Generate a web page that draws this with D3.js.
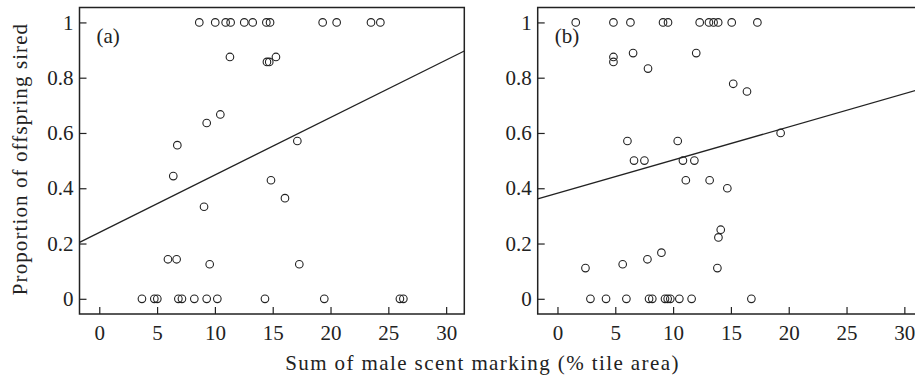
<!DOCTYPE html>
<html>
<head>
<meta charset="utf-8">
<script src="https://cdn.jsdelivr.net/npm/d3@7"></script>
<style>
  body { margin: 0; background: #fff; }
  svg text { font-family: 'Liberation Serif', serif; fill: #222; }
</style>
</head>
<body>
<figure id="scatter" style="margin:0"></figure>
<script>
// Panel (a): sum of scent marking vs proportion of offspring sired
const markA = [8.65, 10.03, 10.93, 11.36, 12.54, 13.27, 14.45, 14.77, 19.32, 20.53, 23.5, 24.31,
  11.3, 15.28, 14.5, 14.7, 10.47, 9.29, 17.13, 6.75, 6.4, 14.85, 16.06, 9.06,
  5.94, 6.69, 17.3, 9.55,
  3.69, 4.76, 5.02, 6.84, 7.15, 8.22, 9.29, 10.21, 14.33, 19.46, 26.0, 26.3];
const siredA = [1, 1, 1, 1, 1, 1, 1, 1, 1, 1, 1, 1,
  0.875, 0.875, 0.857, 0.857, 0.667, 0.636, 0.571, 0.556, 0.444, 0.429, 0.364, 0.333,
  0.143, 0.143, 0.125, 0.125,
  0, 0, 0, 0, 0, 0, 0, 0, 0, 0, 0, 0];

// Panel (b)
const markB = [1.58, 4.84, 6.31, 9.13, 9.56, 12.3, 13.1, 13.5, 13.9, 15.07, 17.29,
  6.54, 12.0, 4.84, 4.84, 7.83, 15.2, 16.39, 19.3, 6.05, 10.4,
  6.62, 7.52, 10.85, 11.84, 11.1, 13.16, 14.69, 14.12, 13.92, 8.99, 7.78, 5.64, 2.42, 13.83,
  2.85, 4.2, 5.96, 7.92, 8.2, 9.3, 9.53, 9.76, 10.54, 11.6, 16.77];
const siredB = [1, 1, 1, 1, 1, 1, 1, 1, 1, 1, 1,
  0.889, 0.889, 0.875, 0.857, 0.833, 0.778, 0.75, 0.6, 0.571, 0.571,
  0.5, 0.5, 0.5, 0.5, 0.429, 0.429, 0.4, 0.25, 0.222, 0.167, 0.143, 0.125, 0.111, 0.111,
  0, 0, 0, 0, 0, 0, 0, 0, 0, 0, 0];

// fitted lines: [intercept, slope]
const fitA = [0.240, 0.0208];
const fitB = [0.382, 0.0120];

const xTicks = [0, 5, 10, 15, 20, 25, 30];
const yTicks = [0, 0.2, 0.4, 0.6, 0.8, 1];
const panelLabels = ['(a)', '(b)'];

const width = 915;
const height = 378;
const plotW = 384.8;
const plotH = 306.5;
const marginTop = 7.5;
const lefts = [79.5, 537.7];
const serif = 'Liberation Serif';

const svg = d3.select('figure#scatter')
  .append('svg')
  .attr('width', width)
  .attr('height', height);

const panels = [
  {xs: markA, ys: siredA, fit: fitA},
  {xs: markB, ys: siredB, fit: fitB}
];

panels.forEach((p, i) => {
  const g = svg.append('g')
    .attr('transform', 'translate(' + lefts[i] + ',' + marginTop + ')');

  const x = d3.scaleLinear()
    .domain([-1.71, 31.57])
    .range([0, plotW]);
  const y = d3.scaleLinear()
    .domain([-0.055, 1.054])
    .range([plotH, 0]);

  // Add X axis
  const xAxis = g.append('g')
    .attr('transform', 'translate(0,' + plotH + ')')
    .call(d3.axisBottom(x).tickValues(xTicks).tickSizeInner(-7).tickSizeOuter(0).tickPadding(11));
  xAxis.attr('font-family', serif).attr('font-size', 21);
  xAxis.select('.domain').remove();
  xAxis.selectAll('line').attr('stroke', '#222').attr('stroke-width', 1.2);
  xAxis.selectAll('text').attr('fill', '#222');

  // Add Y axis
  const yAxis = g.append('g')
    .call(d3.axisLeft(y).tickValues(yTicks).tickSizeInner(-7).tickSizeOuter(0).tickPadding(6)
      .tickFormat(d3.format('~g')));
  yAxis.attr('font-family', serif).attr('font-size', 21);
  yAxis.select('.domain').remove();
  yAxis.selectAll('line').attr('stroke', '#222').attr('stroke-width', 1.2);
  yAxis.selectAll('text').attr('fill', '#222');

  // frame
  g.append('rect')
    .attr('width', plotW)
    .attr('height', plotH)
    .attr('fill', 'none')
    .attr('stroke', '#222')
    .attr('stroke-width', 1.5);

  // regression line
  const x0 = x.domain()[0], x1 = x.domain()[1];
  g.append('line')
    .attr('x1', x(x0))
    .attr('y1', y(p.fit[0] + p.fit[1] * x0))
    .attr('x2', x(x1))
    .attr('y2', y(p.fit[0] + p.fit[1] * x1))
    .attr('stroke', '#222')
    .attr('stroke-width', 1.3);

  // Add dots
  g.append('g').selectAll('circle')
    .data(p.xs)
    .enter()
    .append('circle')
    .attr('cx', d => x(d))
    .attr('cy', (d, j) => y(p.ys[j]))
    .attr('r', 3.8)
    .attr('fill', 'none')
    .attr('stroke', '#222')
    .attr('stroke-width', 1.1);

  // panel label
  g.append('text')
    .attr('x', 17)
    .attr('y', 35)
    .attr('font-family', serif)
    .attr('font-size', 21)
    .text(panelLabels[i]);
});

// axis titles
svg.append('text')
  .attr('x', 482.5)
  .attr('y', 370)
  .attr('text-anchor', 'middle')
  .attr('font-family', serif)
  .attr('font-size', 21)
  .attr('letter-spacing', 1.4)
  .text('Sum of male scent marking (% tile area)');

svg.append('text')
  .attr('transform', 'translate(27,159) rotate(-90)')
  .attr('text-anchor', 'middle')
  .attr('font-family', serif)
  .attr('font-size', 21)
  .attr('letter-spacing', 1.1)
  .text('Proportion of offspring sired');
</script>
</body>
</html>
